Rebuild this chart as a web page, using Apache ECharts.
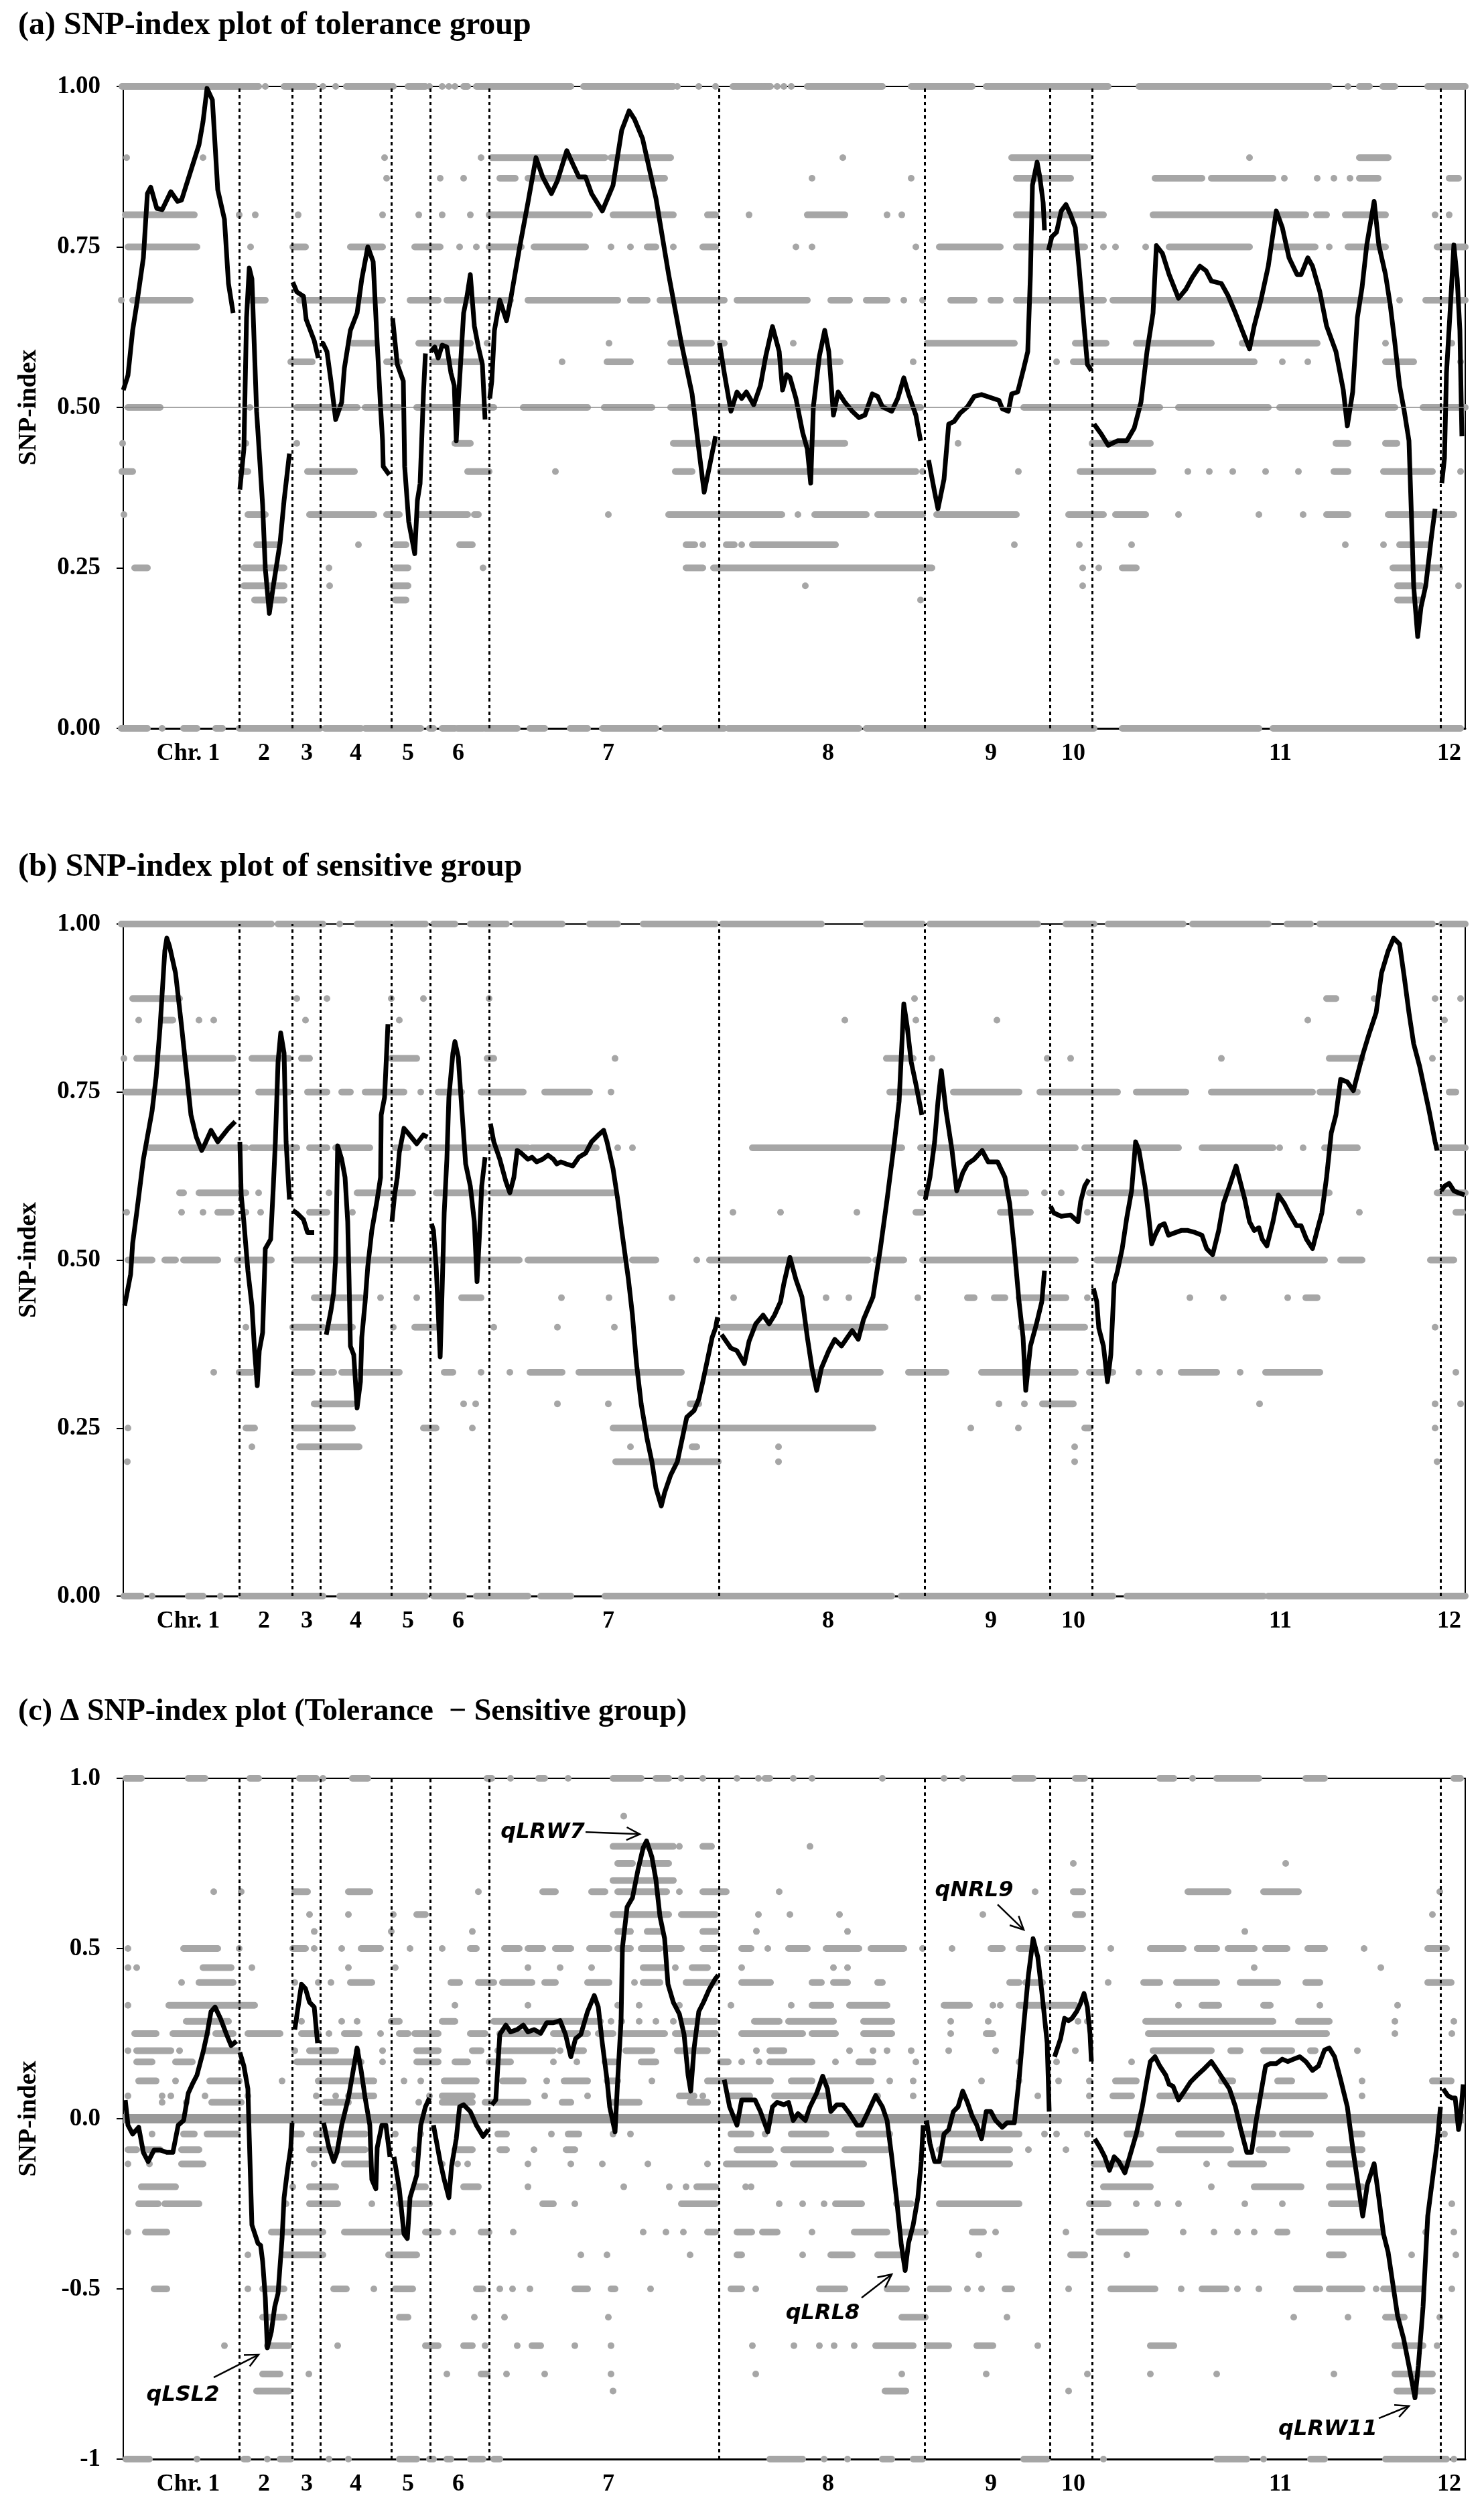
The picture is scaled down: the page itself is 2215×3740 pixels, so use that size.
<!DOCTYPE html>
<html>
<head>
<meta charset="utf-8">
<title>SNP-index plots</title>
<script src="https://cdn.jsdelivr.net/npm/echarts@6/dist/echarts.min.js"></script>
<style>
  html, body { margin: 0; padding: 0; background: #fff; }
  #chart { width: 2215px; height: 3740px; }
</style>
</head>
<body>
<div id="chart"></div>
<script>
// markers are laid out in genome order; x = marker position along the 12 chromosomes
const xMax = 2003;
const chromEnds = [173, 252, 294, 400, 458, 546, 889, 1196, 1383, 1446, 1966];
const chromNames = ['Chr. 1', '2', '3', '4', '5', '6', '7', '8', '9', '10', '11', '12'];
const chromLabelPos = [97, 210, 274, 347, 425, 500, 724, 1052, 1295, 1418, 1727, 1979];

// sliding-window SNP-index, one list per chromosome: [position, index]
const lineA = [
  [[0,0.527],[7,0.55],[14,0.62],[20,0.66],[30,0.733],[36,0.833],[41,0.843],[50,0.81],[58,0.808],[71,0.836],[81,0.821],[87,0.823],[100,0.866],[113,0.909],[119,0.945],[125,0.997],[133,0.979],[141,0.839],[151,0.793],[157,0.693],[164,0.647]],
  [[174,0.372],[180,0.435],[184,0.64],[188,0.717],[192,0.70],[199,0.494],[208,0.348],[212,0.249],[218,0.179],[224,0.222],[234,0.289],[240,0.355],[248,0.428]],
  [[253,0.695],[259,0.68],[269,0.673],[273,0.637],[285,0.604],[291,0.577]],
  [[295,0.60],[298,0.60],[304,0.587],[310,0.541],[317,0.481],[326,0.508],[330,0.561],[339,0.62],[349,0.647],[356,0.70],[365,0.75],[373,0.727],[379,0.60],[384,0.501],[387,0.448],[388,0.408],[397,0.395]],
  [[402,0.639],[409,0.567],[418,0.541],[420,0.408],[426,0.322],[435,0.272],[439,0.355],[443,0.381],[448,0.521],[451,0.584]],
  [[459,0.587],[465,0.594],[470,0.577],[476,0.597],[483,0.594],[489,0.554],[494,0.534],[497,0.448],[500,0.508],[508,0.647],[513,0.673],[518,0.707],[524,0.627],[530,0.594],[536,0.567],[540,0.481]],
  [[547,0.514],[550,0.541],[554,0.62],[562,0.667],[572,0.635],[578,0.667],[591,0.746],[604,0.819],[616,0.889],[626,0.859],[639,0.833],[648,0.853],[662,0.90],[671,0.879],[680,0.859],[690,0.859],[699,0.833],[715,0.806],[731,0.846],[744,0.932],[755,0.962],[763,0.949],[775,0.919],[795,0.826],[814,0.707],[833,0.60],[849,0.521],[859,0.435],[867,0.368],[875,0.408],[884,0.455]],
  [[890,0.60],[897,0.554],[907,0.494],[916,0.524],[923,0.514],[930,0.524],[941,0.504],[951,0.534],[959,0.58],[969,0.626],[979,0.587],[984,0.527],[990,0.551],[995,0.547],[1004,0.514],[1014,0.461],[1021,0.435],[1026,0.382],[1030,0.501],[1039,0.58],[1047,0.62],[1053,0.587],[1060,0.488],[1067,0.524],[1077,0.508],[1088,0.494],[1098,0.484],[1107,0.488],[1118,0.521],[1126,0.517],[1133,0.501],[1147,0.494],[1156,0.514],[1165,0.546],[1172,0.521],[1183,0.488],[1190,0.448]],
  [[1202,0.418],[1211,0.368],[1216,0.342],[1225,0.388],[1232,0.474],[1240,0.478],[1249,0.491],[1260,0.501],[1270,0.517],[1281,0.52],[1307,0.511],[1312,0.498],[1321,0.494],[1326,0.521],[1335,0.524],[1344,0.561],[1350,0.587],[1354,0.707],[1357,0.846],[1364,0.882],[1368,0.859],[1373,0.819],[1375,0.776]],
  [[1381,0.745],[1386,0.766],[1393,0.773],[1400,0.806],[1407,0.816],[1414,0.80],[1421,0.78],[1427,0.713],[1434,0.627],[1439,0.567],[1445,0.557]],
  [[1449,0.474],[1460,0.458],[1470,0.441],[1484,0.448],[1498,0.448],[1509,0.468],[1519,0.508],[1528,0.587],[1537,0.647],[1542,0.752],[1551,0.74],[1561,0.707],[1575,0.67],[1586,0.684],[1596,0.703],[1607,0.72],[1616,0.713],[1624,0.697],[1639,0.693],[1649,0.674],[1660,0.647],[1670,0.62],[1681,0.591],[1688,0.627],[1698,0.667],[1709,0.72],[1721,0.806],[1730,0.78],[1740,0.733],[1752,0.707],[1758,0.707],[1768,0.733],[1775,0.72],[1786,0.68],[1796,0.627],[1810,0.587],[1821,0.527],[1827,0.471],[1835,0.524],[1842,0.64],[1849,0.687],[1856,0.753],[1867,0.821],[1874,0.753],[1884,0.707],[1891,0.66],[1898,0.60],[1905,0.534],[1912,0.494],[1919,0.448],[1923,0.322],[1926,0.222],[1932,0.143],[1937,0.189],[1944,0.222],[1953,0.302],[1958,0.342]],
  [[1968,0.382],[1972,0.421],[1975,0.554],[1981,0.66],[1986,0.753],[1991,0.70],[1995,0.62],[1998,0.455]]
];

const lineB = [
  [[2,0.432],[11,0.479],[14,0.525],[20,0.57],[30,0.65],[43,0.722],[49,0.772],[55,0.848],[62,0.96],[65,0.979],[69,0.967],[78,0.927],[87,0.848],[94,0.782],[101,0.716],[109,0.683],[117,0.663],[122,0.673],[131,0.693],[141,0.676],[157,0.696],[167,0.706]],
  [[174,0.676],[176,0.597],[180,0.557],[186,0.484],[192,0.432],[196,0.365],[200,0.313],[203,0.365],[208,0.392],[212,0.517],[220,0.531],[224,0.61],[227,0.676],[231,0.795],[235,0.838],[240,0.808],[243,0.676],[248,0.59]],
  [[253,0.574],[259,0.57],[269,0.56],[275,0.541],[285,0.541]],
  [[303,0.389],[310,0.425],[314,0.451],[317,0.504],[320,0.67],[326,0.65],[331,0.623],[335,0.557],[337,0.471],[339,0.372],[344,0.359],[349,0.28],[354,0.319],[356,0.385],[361,0.438],[365,0.491],[371,0.544],[379,0.59],[384,0.623],[385,0.716],[390,0.742],[395,0.851]],
  [[401,0.557],[405,0.597],[409,0.623],[412,0.66],[419,0.696],[425,0.689],[438,0.673],[448,0.686],[454,0.683]],
  [[460,0.554],[463,0.544],[467,0.491],[470,0.425],[473,0.356],[476,0.458],[479,0.57],[483,0.65],[486,0.742],[492,0.808],[495,0.825],[500,0.802],[505,0.729],[511,0.643],[518,0.61],[524,0.557],[528,0.468],[532,0.544],[535,0.61],[540,0.653]],
  [[548,0.703],[553,0.676],[562,0.65],[571,0.617],[577,0.60],[583,0.623],[588,0.663],[594,0.659],[604,0.65],[610,0.653],[617,0.646],[626,0.65],[634,0.656],[642,0.65],[647,0.643],[653,0.646],[661,0.643],[671,0.64],[680,0.653],[690,0.659],[699,0.676],[709,0.686],[717,0.693],[722,0.676],[731,0.636],[738,0.59],[744,0.544],[754,0.471],[760,0.418],[766,0.346],[773,0.286],[782,0.233],[789,0.20],[795,0.161],[803,0.134],[808,0.154],[817,0.18],[827,0.20],[837,0.247],[841,0.266],[852,0.276],[859,0.293],[865,0.319],[872,0.352],[879,0.385],[884,0.399],[887,0.415]],
  [[893,0.389],[907,0.369],[916,0.365],[927,0.346],[934,0.379],[944,0.405],[955,0.418],[964,0.405],[972,0.418],[981,0.438],[986,0.465],[995,0.504],[1004,0.471],[1013,0.445],[1021,0.385],[1028,0.339],[1035,0.306],[1042,0.339],[1053,0.365],[1062,0.382],[1072,0.372],[1081,0.385],[1088,0.395],[1097,0.382],[1105,0.412],[1119,0.445],[1130,0.517],[1140,0.59],[1151,0.676],[1158,0.736],[1165,0.881],[1170,0.848],[1176,0.795],[1183,0.762],[1192,0.716]],
  [[1197,0.59],[1204,0.623],[1211,0.676],[1216,0.736],[1221,0.782],[1228,0.722],[1237,0.663],[1244,0.603],[1253,0.63],[1260,0.643],[1270,0.65],[1282,0.663],[1291,0.646],[1305,0.646],[1316,0.623],[1323,0.584],[1330,0.517],[1337,0.438],[1343,0.385],[1347,0.306],[1354,0.372],[1363,0.405],[1371,0.438],[1375,0.484]],
  [[1384,0.58],[1389,0.57],[1400,0.565],[1414,0.567],[1425,0.557],[1429,0.587],[1435,0.61],[1441,0.62]],
  [[1448,0.458],[1453,0.438],[1456,0.399],[1463,0.372],[1469,0.319],[1474,0.359],[1479,0.465],[1484,0.484],[1491,0.517],[1498,0.564],[1505,0.603],[1511,0.676],[1516,0.663],[1525,0.61],[1530,0.57],[1535,0.524],[1540,0.537],[1547,0.551],[1554,0.554],[1560,0.537],[1568,0.54],[1579,0.544],[1589,0.544],[1600,0.541],[1610,0.537],[1617,0.517],[1626,0.508],[1635,0.544],[1642,0.584],[1651,0.61],[1661,0.64],[1667,0.617],[1674,0.59],[1681,0.557],[1688,0.544],[1695,0.548],[1700,0.531],[1707,0.521],[1716,0.557],[1724,0.597],[1733,0.584],[1740,0.57],[1751,0.551],[1758,0.551],[1766,0.531],[1775,0.517],[1782,0.544],[1789,0.57],[1796,0.623],[1803,0.689],[1810,0.716],[1817,0.769],[1827,0.765],[1836,0.752],[1842,0.775],[1849,0.802],[1859,0.835],[1870,0.868],[1878,0.927],[1888,0.96],[1896,0.979],[1905,0.97],[1912,0.921],[1919,0.868],[1926,0.822],[1935,0.788],[1942,0.755],[1949,0.722],[1958,0.676],[1961,0.663]],
  [[1967,0.603],[1972,0.61],[1979,0.614],[1986,0.603],[1993,0.60],[2002,0.597]]
];

const lineC = [
  [[3,0.055],[7,-0.019],[14,-0.045],[23,-0.025],[30,-0.099],[37,-0.126],[46,-0.092],[55,-0.092],[65,-0.099],[74,-0.099],[82,-0.019],[90,-0.005],[97,0.075],[103,0.101],[110,0.128],[119,0.195],[125,0.248],[131,0.315],[137,0.328],[145,0.295],[154,0.248],[161,0.215],[169,0.228]],
  [[174,0.195],[180,0.155],[186,0.088],[188,-0.052],[192,-0.312],[201,-0.366],[205,-0.372],[208,-0.419],[212,-0.526],[215,-0.673],[221,-0.626],[226,-0.553],[231,-0.513],[237,-0.352],[240,-0.232],[245,-0.152],[250,-0.085],[252,-0.012]],
  [[256,0.262],[259,0.302],[266,0.395],[272,0.382],[278,0.342],[285,0.328],[290,0.222]],
  [[299,-0.012],[307,-0.085],[314,-0.126],[319,-0.099],[326,-0.019],[336,0.061],[342,0.128],[349,0.208],[355,0.142],[361,0.061],[368,-0.019],[371,-0.179],[377,-0.206],[379,-0.085],[386,-0.019],[392,-0.019],[398,-0.112]],
  [[404,-0.112],[412,-0.206],[419,-0.339],[424,-0.352],[428,-0.232],[438,-0.166],[444,-0.019],[451,0.035],[457,0.061]],
  [[463,-0.019],[473,-0.126],[479,-0.179],[486,-0.232],[490,-0.139],[497,-0.059],[502,0.035],[508,0.041],[518,0.021],[527,-0.019],[537,-0.052],[545,-0.032]],
  [[550,0.041],[556,0.055],[562,0.248],[571,0.275],[578,0.255],[588,0.262],[597,0.275],[604,0.255],[613,0.262],[623,0.251],[632,0.282],[642,0.282],[652,0.288],[660,0.248],[668,0.182],[675,0.235],[683,0.248],[693,0.315],[703,0.362],[709,0.328],[715,0.222],[722,0.115],[726,0.035],[734,-0.039],[738,0.115],[743,0.288],[745,0.502],[752,0.622],[760,0.649],[768,0.729],[776,0.796],[781,0.816],[789,0.769],[795,0.702],[801,0.595],[808,0.529],[813,0.395],[821,0.342],[830,0.308],[837,0.248],[843,0.128],[847,0.081],[852,0.208],[859,0.315],[866,0.342],[875,0.382],[883,0.409],[888,0.422]],
  [[897,0.115],[905,0.035],[916,-0.019],[923,0.055],[934,0.055],[943,0.055],[951,0.021],[962,-0.039],[969,0.035],[976,0.048],[986,0.041],[993,0.048],[1000,-0.005],[1007,0.015],[1018,-0.005],[1025,0.035],[1035,0.075],[1044,0.125],[1051,0.088],[1056,0.021],[1065,0.041],[1074,0.041],[1084,0.015],[1095,-0.019],[1102,-0.019],[1112,0.021],[1123,0.068],[1133,0.035],[1140,-0.005],[1147,-0.112],[1154,-0.232],[1161,-0.366],[1167,-0.446],[1172,-0.366],[1179,-0.312],[1186,-0.232],[1191,-0.126],[1194,-0.019]],
  [[1199,-0.005],[1204,-0.072],[1211,-0.126],[1218,-0.126],[1225,-0.045],[1232,-0.032],[1239,0.021],[1246,0.035],[1253,0.081],[1260,0.048],[1267,0.008],[1274,-0.019],[1281,-0.059],[1288,0.021],[1295,0.021],[1302,-0.005],[1312,-0.025],[1319,-0.012],[1330,-0.012],[1337,0.115],[1344,0.275],[1351,0.422],[1358,0.529],[1365,0.475],[1372,0.355],[1379,0.222],[1382,0.021]],
  [[1390,0.182],[1399,0.235],[1405,0.295],[1411,0.288],[1416,0.295],[1423,0.315],[1428,0.335],[1434,0.368],[1439,0.328],[1443,0.248],[1445,0.168]],
  [[1450,-0.059],[1458,-0.085],[1465,-0.112],[1472,-0.152],[1479,-0.112],[1486,-0.126],[1495,-0.159],[1502,-0.112],[1512,-0.045],[1521,0.035],[1528,0.115],[1533,0.168],[1540,0.182],[1547,0.155],[1556,0.128],[1561,0.101],[1567,0.095],[1575,0.055],[1584,0.081],[1593,0.108],[1603,0.128],[1614,0.148],[1624,0.168],[1633,0.142],[1642,0.115],[1651,0.088],[1660,0.035],[1668,-0.032],[1677,-0.099],[1684,-0.099],[1691,-0.005],[1698,0.075],[1705,0.155],[1712,0.162],[1721,0.162],[1730,0.175],[1738,0.168],[1747,0.175],[1756,0.182],[1765,0.168],[1775,0.142],[1784,0.155],[1793,0.202],[1800,0.208],[1808,0.182],[1817,0.115],[1827,0.035],[1835,-0.085],[1842,-0.179],[1850,-0.286],[1857,-0.192],[1867,-0.132],[1874,-0.232],[1881,-0.339],[1888,-0.393],[1895,-0.486],[1902,-0.579],[1911,-0.646],[1919,-0.726],[1928,-0.82],[1933,-0.726],[1940,-0.553],[1947,-0.286],[1954,-0.179],[1961,-0.072],[1966,0.035]],
  [[1970,0.088],[1977,0.068],[1983,0.061],[1988,0.061],[1993,-0.032],[1996,0.008],[2000,0.101]]
];

// individual SNPs: [index level, runs of markers [from, to] or single [at]]
const dotsA = [
  [1, [[-2,202],[212],[240,285],[298],[317],[333,403],[425,451],[457],[476],[486],[495],[508,514],[527,668],[687,821],[827],[859],[884],[910,966],[955],[976],[986],[997],[1021,1133],[1176,1267],[1288,1470],[1516,1800],[1828],[1845,1860],[1880,1898],[1947,2003]]],
  [0, [[-3,36],[58],[90,110],[138,148],[173,294],[301,355],[361,444],[457,463],[476,495],[499,537],[540,588],[607,629],[667,693],[715,795],[808,897],[903,1098],[1109,1449],[1491,1695],[1716,1996]]],
  [0.889, [[5],[119],[390],[534],[550,719],[728,817],[1074],[1326,1442],[1681],[1845,1888]]],
  [0.857, [[393],[473],[508],[562,585],[604,808],[1028],[1176],[1333,1414],[1540,1610],[1624,1716],[1733],[1782],[1807],[1831],[1845,1873],[1979,1993]]],
  [0.8, [[3,106],[173],[197],[261],[387],[441],[476],[518],[546,696],[731,821],[872,884],[934],[1021,1077],[1140],[1162],[1333,1463],[1537,1765],[1781,1796],[1824,1884],[1958],[1979]]],
  [0.75, [[7,110],[190],[253,272],[339,387],[435,473],[502],[527],[546,594],[613,690],[728],[757],[782,795],[821],[865,884],[1004],[1028],[1183],[1218,1309],[1333,1435],[1463],[1481],[1526],[1561,1681],[1719,1779],[1800],[1828,1884],[1961,2003]]],
  [0.667, [[-3],[14,100],[189,212],[263,387],[428,470],[483,578],[604,738],[757,782],[801,897],[919],[948],[916,1021],[1056,1084],[1109,1140],[1165],[1193],[1235,1270],[1295,1309],[1333,1463],[1477,1884],[1905],[1944,2003]]],
  [0.6, [[342,374],[441,518],[543],[725],[817,878],[891,897],[1000],[1200,1330],[1421,1467],[1512,1624],[1670,1782],[1884],[1983]]],
  [0.571, [[250,282],[393,412],[463,534],[655],[722,757],[817,966],[927,1070],[1179],[1393],[1418,1688],[1730],[1768],[1884,1926],[1996]]],
  [0.5, [[7,55],[189],[259,349],[361,412],[438,553],[597,693],[718,789],[817,1190],[1344,1547],[1575,1709],[1726,1898],[1940,2003]]],
  [0.444, [[-1],[183],[259],[495,518],[821,872],[888,1077],[1246],[1446,1533],[1810,1828],[1884,1901]]],
  [0.4, [[-2,14],[176,186],[275,345],[514,546],[645],[824,849],[891,1183],[1193],[1336],[1428,1537],[1589],[1621],[1656],[1705],[1754],[1807,1828],[1881,1954],[1996]]],
  [0.333, [[1],[186,212],[278,374],[393,412],[441,514],[524,530],[724],[814,983],[1007],[1032,1109],[1126,1193],[1214,1333],[1411,1463],[1481,1526],[1575],[1695],[1761],[1796,1828],[1888,1986]]],
  [0.286, [[199,231],[351],[406,422],[502,521],[840,853],[865],[900,912],[923],[939,1063],[1330],[1427],[1505],[1824],[1881],[1905,1947]]],
  [0.25, [[17,36],[180,240],[307],[406,425],[537],[840,865],[881,1207],[1432],[1456],[1491,1512],[1895,1965]]],
  [0.222, [[180,240],[308],[403,425],[1018],[1432],[1902,1937],[1993]]],
  [0.2, [[196,240],[406,422],[1190],[1902,1937]]]
];

const dotsB = [
  [1, [[-3,170],[173,221],[231,298],[323],[349,400],[406,451],[463,495],[518,572],[585,655],[696,738],[776,884],[894,966],[937,1042],[1109,1193],[1204,1365],[1407,1449],[1470,1582],[1596,1709],[1737,1772],[1786,1954],[1968,2003]]],
  [0, [[1,27],[43],[97,119],[145],[176,298],[323,451],[463,508],[527,604],[623,668],[719,1147],[1161,1477],[1498,1702],[1709,2003]]],
  [0.889, [[14,84],[259],[304],[400],[448],[546],[1181],[1796,1810],[1867],[1958],[1996]]],
  [0.857, [[23],[58,74],[113],[135],[272],[412],[1077],[1183],[1304],[1768],[1972]]],
  [0.8, [[1],[20,164],[192,247],[266,278],[400,438],[543,553],[734],[1139,1179],[1207],[1379],[1414],[1639],[1800,1849],[1954]]],
  [0.75, [[4,170],[202,247],[275,304],[326,339],[361,419],[444],[470,505],[534,597],[629,696],[728],[1144,1193],[1239,1337],[1368,1484],[1512,1586],[1624,1775],[1786,1842],[1979,1989]]],
  [0.667, [[39,183],[192,259],[278,304],[317,368],[406,425],[454,604],[610,706],[738],[760],[939,1162],[1190,1421],[1435,1575],[1610,1716],[1726],[1761],[1793,1842],[1961,2003]]],
  [0.6, [[84,90],[113,183],[202],[307],[349,432],[467,540],[550,731],[1190,1347],[1375],[1400],[1442,1800],[1961,2003]]],
  [0.571, [[5],[87],[119],[141,161],[183],[205],[278,304],[342],[910],[981],[1095],[1183,1193],[1309,1354],[1439],[1845],[1989,1999]]],
  [0.5, [[7,43],[62,78],[90,141],[170,221],[256,591],[604,744],[760,795],[856],[875,1112],[1123,1165],[1193,1421],[1453,1793],[1817,1849],[1951,1986]]],
  [0.444, [[285,355],[384],[438],[505,534],[654],[725],[819],[911],[1049],[1083],[1186],[1260,1270],[1300,1316],[1337,1407],[1439],[1592],[1642],[1738],[1765,1782]]],
  [0.4, [[183],[253,298],[310,342],[403],[435,467],[553],[648],[733],[894,1137],[1340,1435],[1958]]],
  [0.333, [[135],[173,192],[256,282],[298,314],[326,412],[479,492],[534],[577],[607,655],[680,833],[872,1130],[1172,1228],[1281,1421],[1442,1477],[1516],[1547],[1579,1632],[1667],[1705,1786],[1989]]],
  [0.286, [[285,342],[508],[526],[648],[724],[846,859],[1307],[1345],[1372,1418],[1696],[1958],[1996]]],
  [0.25, [[7],[183,196],[256,342],[448,467],[521],[731,1119],[1265],[1336],[1435,1442],[1958]]],
  [0.222, [[192],[263,352],[757],[849,856],[978],[1420]]],
  [0.2, [[6],[735,888],[978],[1420],[1961]]]
];

const dotsC = [
  [1, [[4,27],[97,122],[189,202],[263,288],[298],[342,365],[543,550],[578],[620,629],[664],[731,773],[795,814],[833],[865],[916],[948],[958,965],[1000],[1028],[1133],[1225],[1253],[1330,1358],[1421,1435],[1547,1568],[1596],[1632,1695],[1765,1793],[1986,1996]]],
  [-1, [[4,39],[110],[180,186],[215],[234,250],[307],[336],[412,438],[457,463],[483,489],[518,537],[553,562],[965,1014],[1046],[1081],[1133,1147],[1179,1193],[1344,1379],[1463],[1632,1677],[1702],[1772,1793],[1884,1975],[1986]]],
  [0.889, [[747]]],
  [0.8, [[731,821],[830],[865,878],[1025]]],
  [0.75, [[738,760],[776,814],[1418],[1735]]],
  [0.7, [[731,821]]],
  [0.667, [[135],[176],[256,275],[336,368],[530],[626,645],[699,719],[738,811],[830],[865,900],[979],[1361],[1418,1432],[1589,1649],[1702,1754],[1965]]],
  [0.6, [[278],[336],[403],[438,451],[731,814],[833,884],[948],[995],[1069],[1283],[1421,1432],[1954]]],
  [0.55, [[285],[400],[521],[738,757],[782,801],[865,884],[945],[1081],[1674]]],
  [0.5, [[7],[90,141],[173],[253,272],[285],[326],[355,384],[428],[476],[518,527],[569,591],[604,626],[645,668],[696,725],[738,757],[773,801],[814,833],[865,884],[923,937],[962],[993,1021],[1049,1098],[1116,1165],[1193],[1237],[1295,1312],[1337,1358],[1379,1432],[1474],[1533,1582],[1603,1632],[1649,1688],[1705,1737],[1768,1793],[1852],[1947,1975]]],
  [0.444, [[7],[20],[119,161],[192],[336],[406],[604],[652],[699],[776,808],[824],[849,872],[923],[1060],[1081],[1688],[1877]]],
  [0.4, [[87],[113,164],[256],[291],[310],[339,371],[489,502],[530,553],[566,610],[629,645],[693,725],[763],[776,801],[840,884],[923,966],[1028,1042],[1060,1081],[1126,1133],[1323,1337],[1347,1372],[1470],[1523,1547],[1572,1632],[1667,1723],[1765,1786],[1947,1982]]],
  [0.333, [[7],[68,196],[495],[604],[738],[770],[830],[907],[997],[1028,1056],[1084,1140],[1225,1263],[1298],[1309],[1337,1421],[1575],[1610,1635],[1702,1712],[1786],[1902]]],
  [0.286, [[94,157],[266],[326],[349],[400,412],[476,495],[553,712],[728],[744],[770],[795],[821],[837,884],[942,979],[993,1060],[1105,1147],[1235],[1291],[1425],[1439],[1526,1716],[1754,1800],[1898],[1986]]],
  [0.25, [[17,49],[74,125],[138,164],[186,234],[266,291],[307],[330,352],[384],[412,425],[435,470],[518,540],[562,620],[642,693],[709,731],[747,808],[824,884],[923,1014],[1028,1063],[1105,1147],[1235],[1288,1298],[1530,1796],[1898],[1983]]],
  [0.2, [[7],[20,71],[84],[122,170],[256],[278,317],[349],[387],[438,470],[521,534],[559,642],[652],[668,687],[750,789],[827,872],[945],[965,986],[1084],[1119],[1140],[1176],[1232],[1302],[1421],[1537,1624],[1653,1667],[1702,1744],[1772,1779],[1842]]],
  [0.167, [[20,43],[78,103],[176],[259,355],[387],[438,470],[495,514],[546,578],[642],[677],[719,734],[773,795],[891,903],[923],[949],[965,1028],[1063],[1098,1119],[1183],[1337],[1393],[1505]]],
  [0.111, [[23,49],[78],[129,173],[237],[291,374],[419],[444],[479,527],[566,597],[632],[658,693],[722,738],[789],[846],[872,966],[997,1028],[1053,1116],[1144],[1179],[1281],[1337],[1396],[1442],[1481,1512],[1639,1656],[1723,1744],[1849],[1954,1982]]],
  [0.067, [[7],[58],[71],[122],[186],[288],[317],[336,374],[457],[476,521],[629],[693],[830,852],[865],[903,935],[972,1049],[1126],[1179],[1365],[1442],[1477,1505],[1547,1793],[1849]]],
  [0.048, [[58],[94],[132,176],[301,336],[441],[476,521],[540,604],[655,668],[731,770],[846,872]]],
  [-0.045, [[43],[90,106],[125,170],[253,266],[288,361],[406],[444],[559,572],[639],[664,680],[731],[757],[907,937],[958],[997,1049],[1098,1144],[1204,1337],[1375],[1393],[1439],[1498,1519],[1575,1639],[1674,1716],[1730,1772],[1835,1849],[1972]]],
  [-0.091, [[7,20],[30,55],[87,113],[278,361],[435],[495,521],[562,572],[613],[661,674],[916,966],[986,1056],[1077,1140],[1218,1323],[1351],[1407],[1547,1653],[1695,1737],[1800,1849]]],
  [-0.133, [[7],[39],[87,119],[285],[330,368],[435],[476],[499],[514],[604],[668],[715],[783],[872],[900,972],[1000,1105],[1225,1323],[1449,1533],[1617],[1653,1702],[1800,1849]]],
  [-0.2, [[27,78],[253],[278,317],[406],[435,451],[508,530],[604],[747],[815],[840],[856,884],[929],[937],[1463,1533],[1624],[1688,1758],[1800,1849]]],
  [-0.25, [[23,52],[62,113],[243],[278,320],[371],[412,457],[626,642],[674],[833,884],[979],[1014],[1046],[1063,1102],[1154,1176],[1218,1337],[1442,1470],[1512],[1544],[1575],[1674],[1730],[1803,1849],[1983]]],
  [-0.333, [[7],[33,65],[221,298],[330,412],[451,470],[492],[534,546],[582],[776],[810],[836],[872,884],[916,938],[954,976],[1028],[1091,1140],[1162,1197],[1267,1284],[1302],[1407],[1456,1526],[1582],[1628],[1663],[1688],[1723,1737],[1800,1877],[1944],[1986]]],
  [-0.4, [[186],[240,298],[396,438],[683],[722],[846],[916,923],[1014],[1056,1088],[1126,1168],[1277],[1414,1435],[1498],[1800,1821],[1923],[1989]]],
  [-0.5, [[46,65],[186],[208,240],[314,333],[374],[406,432],[527,537],[562],[581],[607],[674,693],[728,734],[787],[907,923],[944],[1039,1077],[1140,1169],[1204,1232],[1260],[1281],[1316,1326],[1411],[1474,1540],[1579],[1610,1646],[1663],[1695],[1751,1786],[1800,1849],[1870],[1881,1940],[1983]]],
  [-0.583, [[208,240],[412,425],[524],[569],[724],[1162,1197],[1319],[1747],[1828],[1884,1912],[1965]]],
  [-0.667, [[151],[215,247],[320],[451,470],[508,521],[540],[588],[610,623],[674],[728],[939],[1001],[1039],[1061],[1091],[1123,1179],[1200,1232],[1274,1298],[1365],[1533,1568],[1898,1940],[1961]]],
  [-0.75, [[208,234],[277],[483],[534,543],[572],[629],[728],[944],[1162],[1288],[1439],[1533],[1632],[1807],[1898,1954]]],
  [-0.8, [[199,247],[731],[1137,1168],[1411],[1901,1954]]]
];

// QTL call-outs on the delta plot: [label, text anchor, arrow start, arrow tip]
const qtlNotes = [
  ['qLSL2',  [89, -0.813],  [135, -0.76],  [202, -0.693]],
  ['qLRW7',  [626, 0.842],  [690, 0.842],  [771, 0.836]],
  ['qLRL8',  [1044, -0.573], [1102, -0.526], [1147, -0.457]],
  ['qNRL9',  [1270, 0.669], [1305, 0.629], [1344, 0.555]],
  ['qLRW11', [1798, -0.913], [1874, -0.88], [1919, -0.844]]
];

const SERIF = '"Liberation Serif", "Times New Roman", serif';
const DOT = 10;
const GRAY = '#a6a6a6';

const panels = [
  { title: '(a) SNP-index plot of tolerance group', titleTop: 10, titleSize: 48, top: 129, height: 958, min: 0, max: 1, step: 0.25, dots: dotsA, line: lineA, midLine: true },
  { title: '(b) SNP-index plot of sensitive group', titleTop: 1266, titleSize: 48, top: 1379, height: 1003, min: 0, max: 1, step: 0.25, dots: dotsB, line: lineB },
  { title: '(c) \u0394 SNP-index plot (Tolerance  \u2212 Sensitive group)', titleTop: 2527, titleSize: 46, top: 2654, height: 1016, min: -1, max: 1, step: 0.5, dots: dotsC, line: lineC, zeroBand: true, notes: qtlNotes }
];

function flattenRuns(levels) {
  const out = [];
  levels.forEach(function (lv) {
    lv[1].forEach(function (r) {
      out.push([r[0], r.length > 1 ? r[1] : r[0], lv[0]]);
    });
  });
  return out;
}

function renderRun(params, api) {
  const a = api.coord([api.value(0), api.value(2)]);
  const b = api.coord([api.value(1), api.value(2)]);
  const r = DOT / 2;
  return {
    type: 'rect',
    shape: { x: a[0] - r, y: a[1] - r, width: b[0] - a[0] + DOT, height: DOT, r: r },
    style: { fill: GRAY }
  };
}

function renderNote(params, api) {
  const n = qtlNotes[params.dataIndex];
  const t = api.coord(n[1]);
  const p0 = api.coord(n[2]);
  const p1 = api.coord(n[3]);
  const ang = Math.atan2(p1[1] - p0[1], p1[0] - p0[0]);
  const L = 22, w = 0.45;
  const h1 = [p1[0] - L * Math.cos(ang - w), p1[1] - L * Math.sin(ang - w)];
  const h2 = [p1[0] - L * Math.cos(ang + w), p1[1] - L * Math.sin(ang + w)];
  return {
    type: 'group',
    children: [
      { type: 'line', shape: { x1: p0[0], y1: p0[1], x2: p1[0], y2: p1[1] }, style: { stroke: '#000', lineWidth: 2.5 } },
      { type: 'polyline', shape: { points: [h1, p1, h2] }, style: { stroke: '#000', lineWidth: 2.5, fill: null } },
      { type: 'text', style: { text: n[0], x: t[0], y: t[1], fill: '#000', font: 'italic bold 32px "DejaVu Sans", Verdana, sans-serif', textAlign: 'center', textVerticalAlign: 'middle' } }
    ]
  };
}

const titles = [], grids = [], xAxes = [], yAxes = [], series = [];

panels.forEach(function (p, i) {
  titles.push({
    text: p.title, left: 22, top: p.titleTop,
    textStyle: { fontFamily: SERIF, fontWeight: 'bold', fontSize: p.titleSize, color: '#000' }
  });
  grids.push({ left: 184, right: 28, top: p.top, height: p.height, show: true, borderColor: '#000', borderWidth: 2 });
  xAxes.push({
    gridIndex: i, type: 'value', min: 0, max: xMax,
    axisLine: { onZero: false, lineStyle: { color: '#000', width: 3 } },
    axisTick: { show: false },
    splitLine: { show: false },
    axisLabel: {
      customValues: chromLabelPos,
      formatter: function (v) { return chromNames[chromLabelPos.indexOf(v)]; },
      margin: 20, color: '#000', fontFamily: SERIF, fontWeight: 'bold', fontSize: 36
    }
  });
  yAxes.push({
    gridIndex: i, type: 'value', min: p.min, max: p.max, interval: p.step,
    axisLine: { show: true, lineStyle: { color: '#000', width: 2 } },
    axisTick: { show: true, length: 10, lineStyle: { color: '#000', width: 2 } },
    splitLine: { show: false },
    axisLabel: {
      formatter: function (v) {
        if (p.min < 0) return v === -1 ? '-1' : v.toFixed(1);
        return v.toFixed(2);
      },
      margin: 34, color: '#000', fontFamily: SERIF, fontWeight: 'bold', fontSize: 37
    },
    name: 'SNP-index', nameLocation: 'middle', nameGap: 122,
    nameTextStyle: { fontFamily: SERIF, fontWeight: 'bold', fontSize: 38, color: '#000' }
  });

  series.push({
    type: 'custom', xAxisIndex: i, yAxisIndex: i, z: 2, silent: true,
    renderItem: renderRun, encode: { x: [0, 1], y: 2 },
    data: flattenRuns(p.dots)
  });

  if (p.zeroBand) {
    series.push({
      type: 'line', xAxisIndex: i, yAxisIndex: i, z: 2, silent: true, symbol: 'none',
      lineStyle: { color: '#999', width: 14 }, data: [[0, 0], [xMax, 0]]
    });
  }

  const marks = chromEnds.map(function (x) {
    return { xAxis: x, lineStyle: { type: [5, 5], color: '#000', width: 3 } };
  });
  if (p.midLine) marks.push({ yAxis: 0.5, lineStyle: { type: 'solid', color: '#888', width: 1.5 } });
  series.push({
    type: 'line', xAxisIndex: i, yAxisIndex: i, z: 3, silent: true, symbol: 'none',
    lineStyle: { width: 0 }, data: [[0, p.min]],
    markLine: { silent: true, symbol: 'none', label: { show: false }, data: marks, animation: false }
  });

  p.line.forEach(function (seg) {
    series.push({
      type: 'line', xAxisIndex: i, yAxisIndex: i, z: 4, silent: true,
      symbol: 'none', lineStyle: { color: '#000', width: 7, join: 'round' },
      data: seg
    });
  });

  if (p.notes) {
    series.push({
      type: 'custom', xAxisIndex: i, yAxisIndex: i, z: 5, silent: true,
      renderItem: renderNote, data: p.notes.map(function (n) { return n[1]; })
    });
  }
});

const chart = echarts.init(document.getElementById('chart'));
chart.setOption({
  backgroundColor: '#fff',
  animation: false,
  title: titles,
  grid: grids,
  xAxis: xAxes,
  yAxis: yAxes,
  series: series
});
</script>
</body>
</html>
